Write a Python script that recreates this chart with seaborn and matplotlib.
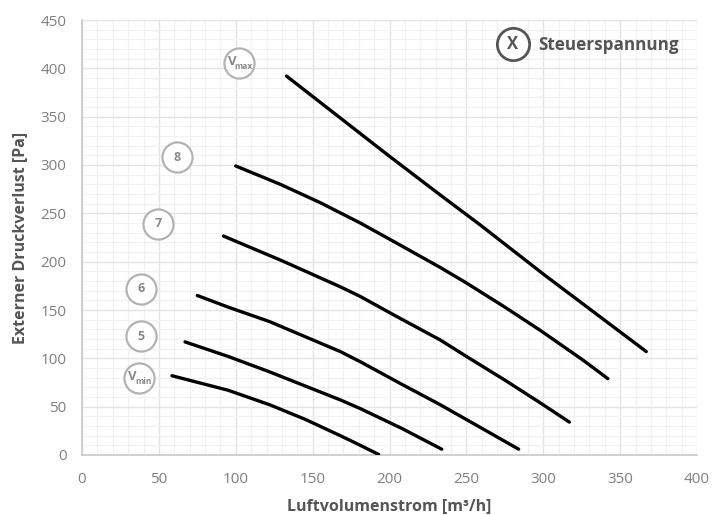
import matplotlib
matplotlib.use("Agg")
import matplotlib.pyplot as plt
from matplotlib.ticker import MultipleLocator
import pandas as pd
import seaborn as sns

# Kennlinien: Luftvolumenstrom [m³/h] vs. externer Druckverlust [Pa]
curve_names = ["Vmax", "8", "7", "6", "5", "Vmin"]
flow_vmax = [133, 200, 233, 259, 301, 367]
press_vmax = [392, 309, 269, 238, 186, 107]
flow_8 = [100, 129, 155, 181, 206, 233, 250, 275, 298, 326, 342]
press_8 = [299, 280, 261, 240, 218, 194, 178, 153, 129, 98, 79]
flow_7 = [92, 130, 168, 181, 205, 233, 250, 275, 298, 317]
press_7 = [226.5, 201, 174, 164, 143, 119, 102, 77.5, 54, 34]
flow_6 = [75, 95, 122, 168, 181, 207, 233, 258, 284]
press_6 = [165, 153, 138, 107, 96.5, 74, 52, 29.5, 6]
flow_5 = [67, 95, 122, 168, 181, 208, 234]
press_5 = [117, 102, 86, 57, 48, 27.5, 6]
flow_vmin = [58.5, 95, 122, 145, 168, 181, 193]
press_vmin = [82, 67, 52, 37, 20, 10, 0.5]

# label bubbles (text, position)
bubble_text = ["max", "8", "7", "6", "5", "min"]
bubble_x = [102, 62, 49.6, 38.5, 38.5, 37]
bubble_y = [406, 308, 239, 172, 123, 80]

x_ticks = list(range(0, 401, 50))
y_ticks = list(range(0, 451, 50))

flows = [flow_vmax, flow_8, flow_7, flow_6, flow_5, flow_vmin]
pressures = [press_vmax, press_8, press_7, press_6, press_5, press_vmin]
rows = []
for name, fl, pr in zip(curve_names, flows, pressures):
    for f, p in zip(fl, pr):
        rows.append({"curve": name, "flow": f, "pressure": p})
df = pd.DataFrame(rows)

sns.set_style("white")
plt.rcParams["font.family"] = ["Open Sans", "DejaVu Sans"]

fig = plt.figure(figsize=(7.15, 5.15), dpi=100)
ax = fig.add_axes([82 / 715, 1 - 455 / 515, 615 / 715, 435 / 515])

sns.lineplot(data=df, x="flow", y="pressure", hue="curve", sort=False,
             palette=["black"] * len(curve_names), linewidth=2.4,
             legend=False, ax=ax, zorder=3)
for line in ax.get_lines():
    line.set_solid_joinstyle("round")
    line.set_solid_capstyle("round")

ax.set_xlim(0, 400)
ax.set_ylim(0, 450)
ax.set_xticks(x_ticks)
ax.set_yticks(y_ticks)
ax.xaxis.set_minor_locator(MultipleLocator(10))
ax.yaxis.set_minor_locator(MultipleLocator(10))
ax.grid(which="major", color="#e4e4e4", linewidth=1.0, zorder=0)
ax.grid(which="minor", color="#f1f1f1", linewidth=0.9, zorder=0)
ax.set_axisbelow(True)
ax.tick_params(which="both", length=0, labelsize=11, labelcolor="#808080")
ax.tick_params(axis="x", pad=12)
ax.tick_params(axis="y", pad=11)
for side in ["top", "right"]:
    ax.spines[side].set_visible(False)
for side in ["left", "bottom"]:
    ax.spines[side].set_color("#c8c8c8")
    ax.spines[side].set_linewidth(1.2)

ax.set_xlabel("Luftvolumenstrom [m³/h]", fontsize=11.5, fontweight="bold",
              color="#555555", labelpad=8)
ax.set_ylabel("Externer Druckverlust [Pa]", fontsize=11.5, fontweight="bold",
              color="#555555", labelpad=9)

# bubbles
ax.scatter(bubble_x, bubble_y, s=470, facecolor="white", edgecolor="#b3b3b3",
           linewidth=1.6, zorder=4, clip_on=False)
for t, bx, by in zip(bubble_text, bubble_x, bubble_y):
    if t in ("max", "min"):
        ax.annotate("V", (bx, by), xytext=(-5, 1), textcoords="offset points",
                    ha="center", va="center", fontsize=9.5, fontweight="bold",
                    color="#888888", zorder=5)
        ax.annotate(t, (bx, by), xytext=(3.5, -2.5), textcoords="offset points",
                    ha="center", va="center", fontsize=6, fontweight="bold",
                    color="#888888", zorder=5)
    else:
        ax.annotate(t, (bx, by), ha="center", va="center", fontsize=9,
                    fontweight="bold", color="#888888", zorder=5)

# legend-like note
ax.scatter([280.3], [425.2], s=540, facecolor="white", edgecolor="#555555",
           linewidth=2.0, zorder=4)
ax.annotate("X", (280.3, 425.2), ha="center", va="center", fontsize=12,
            fontweight="bold", color="#555555", zorder=5)
ax.text(297, 424, "Steuerspannung", ha="left", va="center", fontsize=12.3,
        fontweight="bold", color="#555555", zorder=5)

fig.savefig("out.png", dpi=100)
plt.close(fig)
